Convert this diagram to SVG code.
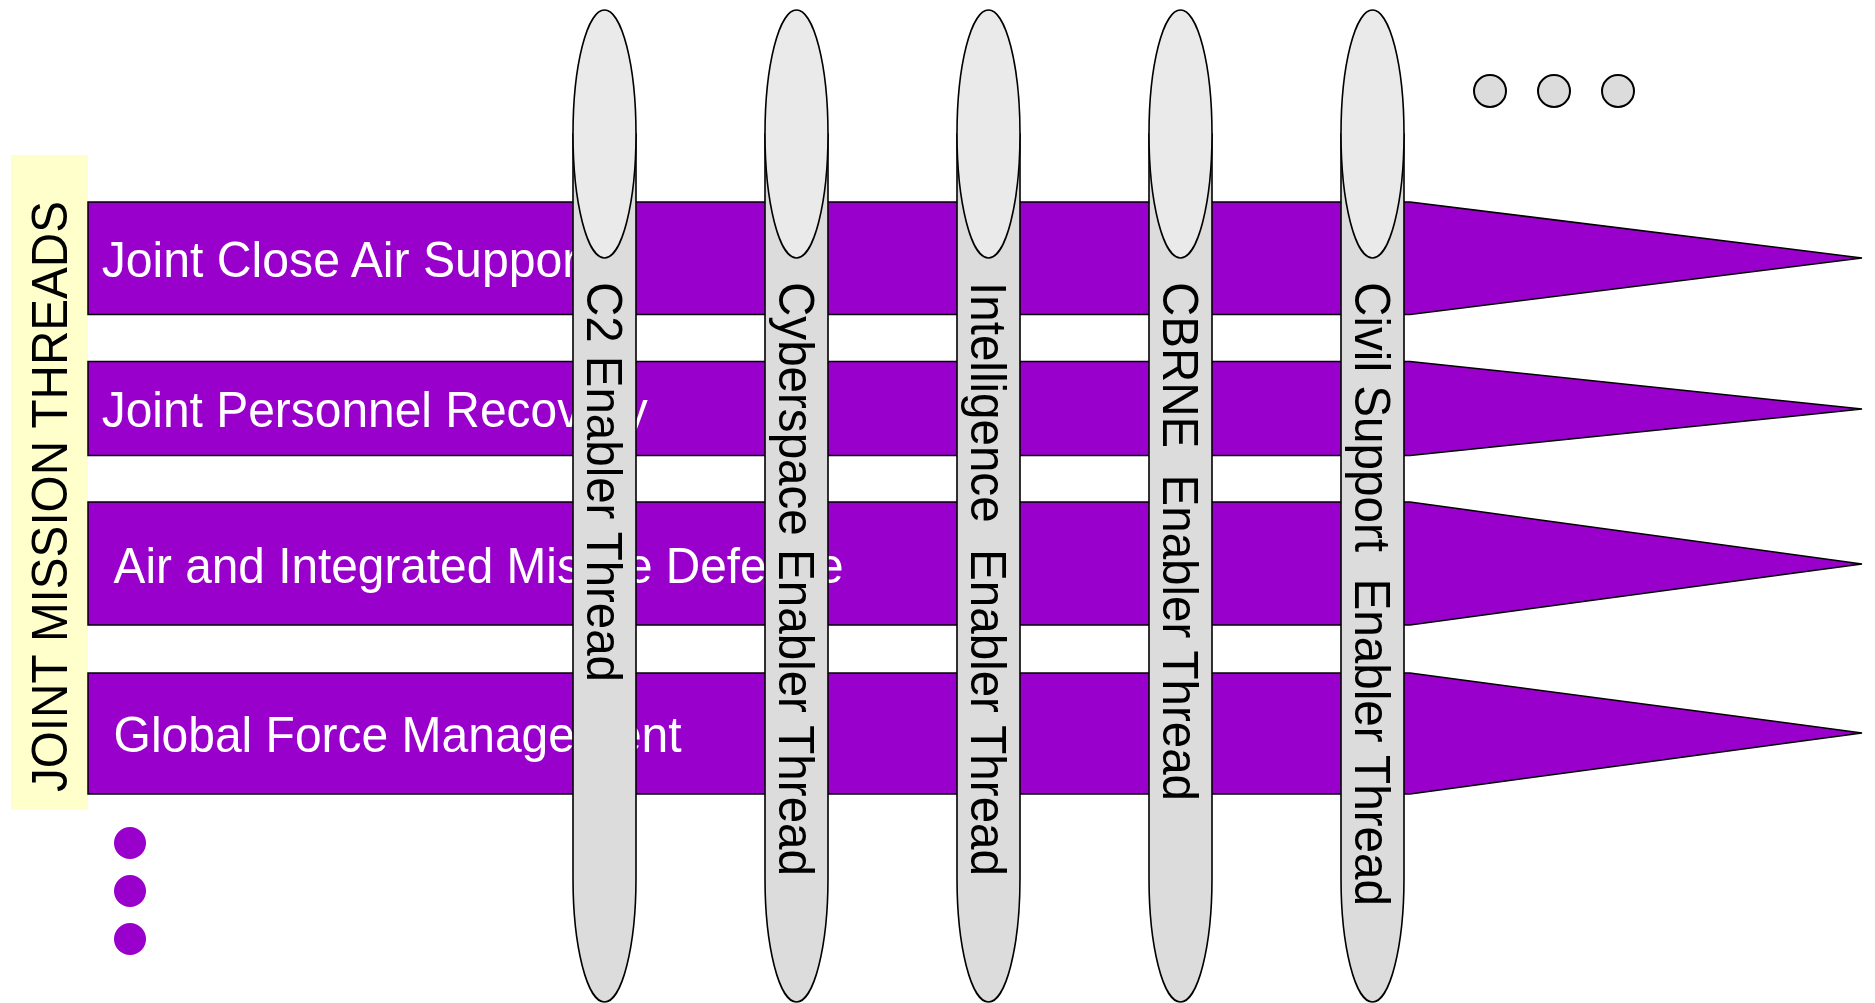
<svg xmlns="http://www.w3.org/2000/svg" width="1875" height="1003" viewBox="0 0 1875 1003">
  <style>
    .bar { fill: #9900CC; stroke: #000; stroke-width: 1.5; }
    .bartxt { font-family: "Liberation Sans", Arial, sans-serif; font-size: 50px; fill: #fff; }
    .body { fill: #DCDCDC; stroke: #000; stroke-width: 1.6; }
    .cap { fill: #EAEAEA; stroke: #000; stroke-width: 1.6; }
    .ptxt { font-family: "Liberation Sans", Arial, sans-serif; font-size: 50px; fill: #000; }
    .gdot { fill: #DCDCDC; stroke: #000; stroke-width: 2; }
    .pdot { fill: #9900CC; }
  </style>
  <rect width="1875" height="1003" fill="#fff"/>

  <g id="title">
    <rect x="11" y="155" width="77" height="655" fill="#FFFFCC"/>
    <text class="ptxt" transform="translate(67,792) rotate(-90)" textLength="591" lengthAdjust="spacingAndGlyphs">JOINT MISSION THREADS</text>
  </g>

  <g id="mission-threads">
    <g id="jcas">
      <polygon class="bar" points="88,202 1410,202 1862,258 1410,314.5 88,314.5"/>
      <text class="bartxt" x="101.7" y="277" textLength="490" lengthAdjust="spacingAndGlyphs">Joint Close Air Support</text>
    </g>
    <g id="jpr">
      <polygon class="bar" points="88,361.5 1410,361.5 1862,409 1410,455.5 88,455.5"/>
      <text class="bartxt" x="101.7" y="427" textLength="546" lengthAdjust="spacingAndGlyphs">Joint Personnel Recovery</text>
    </g>
    <g id="aimd">
      <polygon class="bar" points="88,502 1410,502 1862,564 1410,625 88,625"/>
      <text class="bartxt" x="113.6" y="582.5" textLength="730" lengthAdjust="spacingAndGlyphs">Air and Integrated Missile Defense</text>
    </g>
    <g id="gfm">
      <polygon class="bar" points="88,673 1410,673 1862,733 1410,794 88,794"/>
      <text class="bartxt" x="113.6" y="752" textLength="568" lengthAdjust="spacingAndGlyphs">Global Force Management</text>
    </g>
  </g>

  <g id="enabler-threads">
    <g id="c2">
      <path class="body" d="M573,134 L573,878 A31.5,124 0 0 0 636,878 L636,134 Z"/>
      <ellipse class="cap" cx="604.5" cy="134" rx="31.5" ry="124"/>
      <text class="ptxt" transform="translate(586.5,282) rotate(90)" textLength="400" lengthAdjust="spacingAndGlyphs">C2 Enabler Thread</text>
    </g>
    <g id="cyberspace">
      <path class="body" d="M765,134 L765,878 A31.5,124 0 0 0 828,878 L828,134 Z"/>
      <ellipse class="cap" cx="796.5" cy="134" rx="31.5" ry="124"/>
      <text class="ptxt" transform="translate(778.5,282) rotate(90)" textLength="594" lengthAdjust="spacingAndGlyphs">Cyberspace Enabler Thread</text>
    </g>
    <g id="intelligence">
      <path class="body" d="M957,134 L957,878 A31.5,124 0 0 0 1020,878 L1020,134 Z"/>
      <ellipse class="cap" cx="988.5" cy="134" rx="31.5" ry="124"/>
      <text class="ptxt" xml:space="preserve" transform="translate(970.5,282) rotate(90)" textLength="594" lengthAdjust="spacingAndGlyphs">Intelligence  Enabler Thread</text>
    </g>
    <g id="cbrne">
      <path class="body" d="M1149,134 L1149,878 A31.5,124 0 0 0 1212,878 L1212,134 Z"/>
      <ellipse class="cap" cx="1180.5" cy="134" rx="31.5" ry="124"/>
      <text class="ptxt" xml:space="preserve" transform="translate(1162.5,282) rotate(90)" textLength="519" lengthAdjust="spacingAndGlyphs">CBRNE  Enabler Thread</text>
    </g>
    <g id="civil-support">
      <path class="body" d="M1341,134 L1341,878 A31.5,124 0 0 0 1404,878 L1404,134 Z"/>
      <ellipse class="cap" cx="1372.5" cy="134" rx="31.5" ry="124"/>
      <text class="ptxt" xml:space="preserve" transform="translate(1354.5,282) rotate(90)" textLength="624" lengthAdjust="spacingAndGlyphs">Civil Support  Enabler Thread</text>
    </g>
  </g>

  <g id="more-enablers">
    <circle class="gdot" cx="1490" cy="91" r="16"/>
    <circle class="gdot" cx="1554" cy="91" r="16"/>
    <circle class="gdot" cx="1618" cy="91" r="16"/>
  </g>

  <g id="more-missions">
    <circle class="pdot" cx="130" cy="843" r="16"/>
    <circle class="pdot" cx="130" cy="891" r="16"/>
    <circle class="pdot" cx="130" cy="939" r="16"/>
  </g>
</svg>
